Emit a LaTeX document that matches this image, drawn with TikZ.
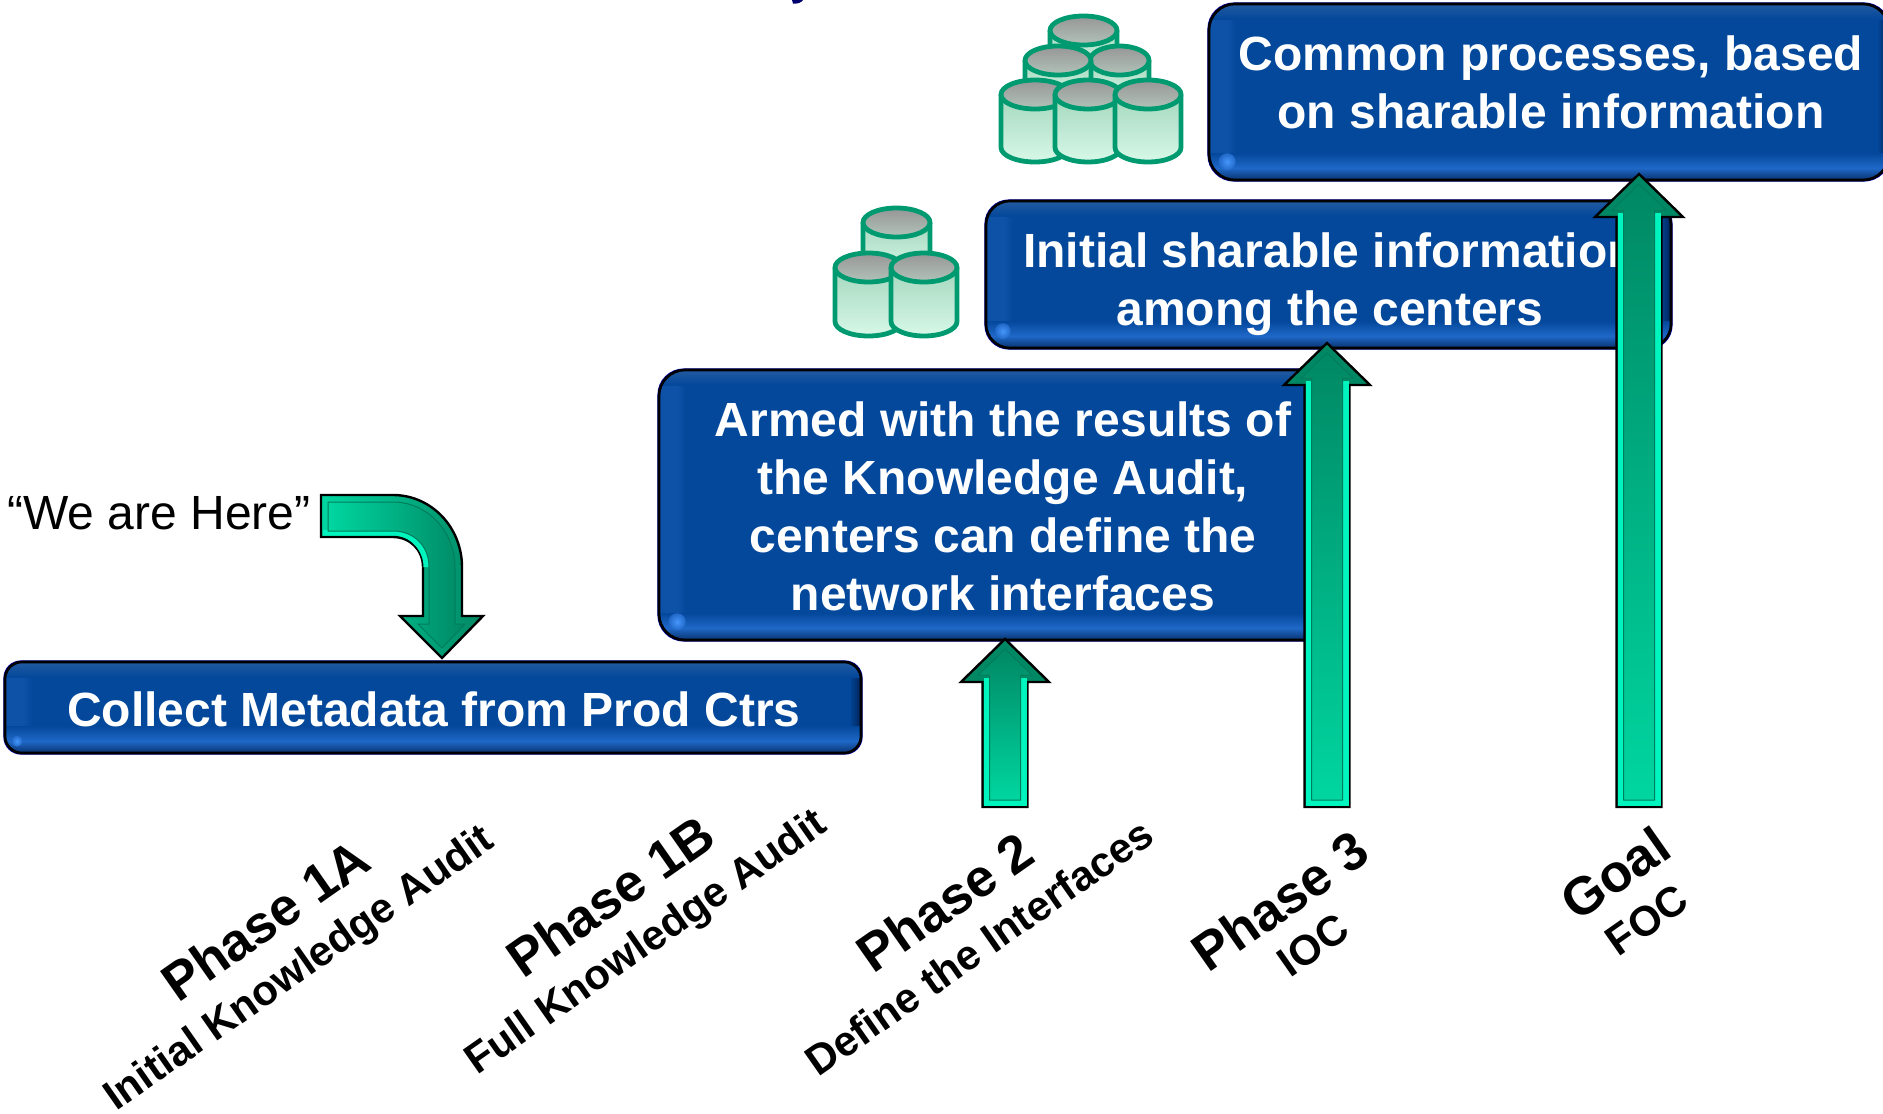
\documentclass[tikz,border=0pt]{standalone}
\usepackage{fontspec}
\setmainfont{Liberation Sans}
\definecolor{boxbase}{RGB}{3,72,155}
\definecolor{boxtop}{RGB}{34,90,160}
\definecolor{boxlow}{RGB}{32,104,200}
\definecolor{boxedge}{RGB}{8,50,110}
\definecolor{boxleft}{RGB}{14,82,168}
\definecolor{boxright}{RGB}{0,35,90}
\definecolor{boxglow}{RGB}{70,150,250}
\definecolor{boxline}{RGB}{0,0,170}
\definecolor{gdark}{RGB}{0,136,100}
\definecolor{gbright}{RGB}{0,214,160}
\definecolor{gstrip}{RGB}{0,245,190}
\definecolor{gline}{RGB}{0,125,92}
\definecolor{cylline}{RGB}{0,154,112}
\definecolor{cyltopA}{RGB}{150,150,150}
\definecolor{cyltopB}{RGB}{178,195,185}
\definecolor{cylA}{RGB}{165,215,190}
\definecolor{cylB}{RGB}{188,243,218}
\definecolor{cylC}{RGB}{215,248,232}
\definecolor{navyfrag}{RGB}{0,0,110}
\tikzset{
  boxframe/.style={draw=black,line width=2.6pt,rectangle,rounded corners=#1,inner sep=0pt,outer sep=0pt},
  boxtext/.style={text=white,font=\bfseries\fontsize{48}{58}\selectfont,align=center,inner sep=0pt},
  phase/.style={font=\bfseries\fontsize{53}{58}\selectfont,rotate=35,inner sep=0pt},
  subphase/.style={font=\bfseries\fontsize{42}{46}\selectfont,rotate=35,inner sep=0pt},
  arrowout/.style={draw=black,line width=2.4pt,line join=miter,miter limit=10},
  arrowin/.style={draw=gline,line width=1pt,line join=miter,top color=gdark,bottom color=gbright},
  cylbody/.style={draw=cylline,line width=4.8pt},
}
% name x1 y1 x2 y2 radius
\newcommand{\bluebox}[6]{%
  \begin{scope}
    \clip[rounded corners=#6pt] (#2,#3) rectangle (#4,#5);
    \fill[boxbase] (#2,#3) rectangle (#4,#5);
    \shade[left color=boxleft,right color=boxbase] ({#2+18},{#3}) rectangle ({#2+27},{#5});
    \fill[boxleft] ({#2},{#3}) rectangle ({#2+18},{#5});
    \shade[left color=boxbase,right color=boxright] ({#4-12},{#3}) rectangle ({#4},{#5});
    \shade[top color=boxtop,bottom color=boxbase] ({#2},{#3}) rectangle ({#4},{#3+15});
    \shade[top color=boxbase,bottom color=boxlow] ({#2},{#5-27}) rectangle ({#4},{#5-12});
    \shade[top color=boxlow,bottom color=boxedge] ({#2},{#5-12}) rectangle ({#4},{#5});
    \shade[inner color=boxglow,outer color=boxlow] ({#2+0.7*#6},{#5-0.7*#6}) circle ({0.33*#6*1pt});
  \end{scope}
  \draw[boxline,line width=1.2pt,rounded corners=#6pt] ({#2-1},{#3-1}) rectangle ({#4+1},{#5+1});
  \node[boxframe=#6pt,minimum width={(#4-#2)*1pt},minimum height={(#5-#3)*1pt}] (#1) at ({(#2+#4)/2},{(#3+#5)/2}) {};
}
% name cx bottom tip base halfshaft halfhead
\newcommand{\uparrowblock}[7]{%
  \coordinate (#1) at (#2,#4);
  \fill[arrowout,top color=gdark,bottom color=gdark] ({#2-#6},#3) -- ({#2-#6},#5) -- ({#2-#7},#5) -- (#1) -- ({#2+#7},#5) -- ({#2+#6},#5) -- ({#2+#6},#3) -- cycle;
  \fill[gstrip] ({#2-#6+1},{#3-1}) rectangle ({#2+#6-1},{#5-4});
  \path[arrowin] ({#2-#6+7},{#3-7}) -- ({#2-#6+7},{#5-7}) -- ({#2-#7+17},{#5-7}) -- ({#2},{#4+10}) -- ({#2+#7-17},{#5-7}) -- ({#2+#6-7},{#5-7}) -- ({#2+#6-7},{#3-7}) -- cycle;
}
% name left right top ellipseheight bottom
\newcommand{\cylinder}[6]{%
  \coordinate (#1) at ({(#2+#3)/2},#4);
  \pgfmathsetmacro{\cyrx}{(#3-#2)/2}
  \pgfmathsetmacro{\cyry}{#5/2}
  \pgfmathsetmacro{\cymid}{#4+#5/2}
  \pgfmathsetmacro{\cybot}{#6-#5/2}
  \pgfmathsetmacro{\cyk}{0.5523*\cyrx}
  \pgfmathsetmacro{\cyh}{0.5523*\cyry}
  \shade[top color=cylA,middle color=cylB,bottom color=cylC] (#2,\cymid) -- (#2,\cybot) .. controls (#2,{\cybot+\cyh}) and ({#2+\cyrx-\cyk},#6) .. ({#2+\cyrx},#6) .. controls ({#2+\cyrx+\cyk},#6) and (#3,{\cybot+\cyh}) .. (#3,\cybot) -- (#3,\cymid) -- cycle;
  \draw[cylbody] (#2,\cymid) -- (#2,\cybot) .. controls (#2,{\cybot+\cyh}) and ({#2+\cyrx-\cyk},#6) .. ({#2+\cyrx},#6) .. controls ({#2+\cyrx+\cyk},#6) and (#3,{\cybot+\cyh}) .. (#3,\cybot) -- (#3,\cymid);
  \path[cylbody,top color=cyltopA,bottom color=cyltopB] (#2,\cymid) .. controls (#2,{\cymid-\cyh}) and ({#2+\cyrx-\cyk},#4) .. ({#2+\cyrx},#4) .. controls ({#2+\cyrx+\cyk},#4) and (#3,{\cymid-\cyh}) .. (#3,\cymid) .. controls (#3,{\cymid+\cyh}) and ({#2+\cyrx+\cyk},{#4+#5}) .. ({#2+\cyrx},{#4+#5}) .. controls ({#2+\cyrx-\cyk},{#4+#5}) and (#2,{\cymid+\cyh}) .. (#2,\cymid) -- cycle;
}
\begin{document}
\begin{tikzpicture}[x=1pt,y=-1pt]
\useasboundingbox (0,0) rectangle (1883,1114);
\fill[white] (0,0) rectangle (1883,1114);
% fragment of a cropped title
\fill[navyfrag] (792,0) -- (803,0) .. controls (801,3) and (797,4) .. (793,3.5) -- cycle;

% blue boxes
\bluebox{bfour}{1209}{4}{1889}{180}{26}
\node[boxtext] (tfour) at (1551,82) {Common processes, based\\on sharable information};
\bluebox{bthree}{986}{201}{1671}{348}{24}
\node[boxtext] (tthree) at (1330,284) {Initial sharable information\\among the centers};
\bluebox{btwo}{659}{370}{1345}{640}{26}
\node[boxtext] (ttwo) at (1003,506) {Armed with the results of\\the Knowledge Audit,\\centers can define the\\network interfaces};
\bluebox{bone}{5}{662}{861}{753}{17}
\node[boxtext] (tone) at (434,709) {Collect Metadata from Prod Ctrs};

% cylinders, group with three
\cylinder{cb}{863}{930}{208}{29}{273}
\cylinder{cc}{835}{902}{253}{29}{336}
\cylinder{cd}{891}{957}{253}{29}{336}
% cylinders, group with six
\cylinder{ce}{1050}{1117}{16}{29}{70}
\cylinder{cf}{1090}{1149}{46}{29}{100}
\cylinder{cg}{1025}{1091}{46}{29}{100}
\cylinder{ch}{1001}{1069}{80}{29}{162}
\cylinder{ci}{1055}{1121}{80}{29}{162}
\cylinder{cj}{1115}{1181}{80}{29}{162}

% block arrows
\uparrowblock{atwo}{1005}{807}{639}{682}{22.5}{44}
\uparrowblock{athree}{1327}{807}{343}{385}{22.5}{43}
\uparrowblock{agoal}{1639}{807}{174}{217}{22.5}{44}

% curved arrow
\coordinate (ahere) at (442,658);
\path[arrowout,left color=gbright,right color=gdark] (321,495) -- (393,495) .. controls (431,495) and (462,527) .. (462,567) -- (462,616) -- (483,616) -- (ahere) -- (400,616) -- (423,616) -- (423,567) .. controls (423,550) and (410,537) .. (393,537) -- (321,537) -- cycle;
\fill[gstrip] (323,530) -- (393,530) .. controls (414,530) and (430,546) .. (430,567) -- (423.5,567) .. controls (423.5,550) and (410,535.5) .. (393,535.5) -- (323,535.5) -- cycle;
\path[draw=gline,line width=1pt,left color=gbright,right color=gdark] (328,502) -- (393,502) .. controls (427,502) and (455,531) .. (455,567) -- (455,624) -- (465,624) -- (442,648) -- (418,624) -- (429,624) -- (429,567) .. controls (429,546) and (414,531) .. (393,531) -- (328,531) -- cycle;

\node[font=\fontsize{48}{58}\selectfont,inner sep=0pt] (here) at (159,513) {“We are Here”};

% phase labels
\node[phase] (pa) at (265,920) {Phase 1A};
\node[subphase] (psa) at (300,970) {Initial Knowledge Audit};
\node[phase] (pb) at (610,896) {Phase 1B};
\node[subphase] (psb) at (647,944) {Full Knowledge Audit};
\node[phase] (pc) at (945,902) {Phase 2};
\node[subphase] (psc) at (979,947) {Define the Interfaces};
\node[phase] (pd) at (1280,901) {Phase 3};
\node[subphase] (psd) at (1313,945) {IOC};
\node[phase] (pe) at (1615,873) {Goal};
\node[subphase] (pse) at (1647,920) {FOC};
\end{tikzpicture}
\end{document}
